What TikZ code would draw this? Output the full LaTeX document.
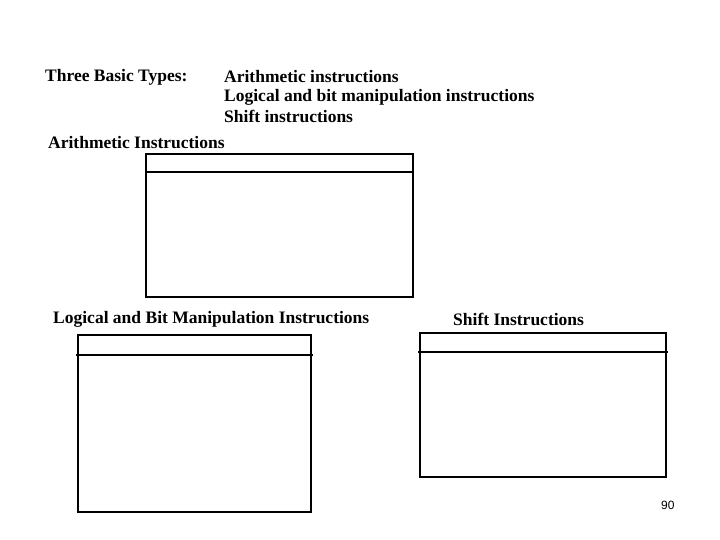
\documentclass[tikz,border=0pt]{standalone}
\usepackage{fontspec}
\setmainfont{Liberation Serif}
\newfontfamily\sansf{Liberation Sans}
\begin{document}
\begin{tikzpicture}[x=1pt,y=-1pt,
  lbl/.style={anchor=west,inner sep=0pt,font=\bfseries\fontsize{17.5}{20}\selectfont},
  tbl/.style={draw,line width=1.6pt}]
\useasboundingbox (0,0) rectangle (720,540);
\node[lbl] (t) at (45,77) {Three Basic Types:};
\node[lbl] (a1) at (224,77) {Arithmetic instructions};
\node[lbl] (a2) at (224,97) {Logical and bit manipulation instructions};
\node[lbl] (a3) at (224,116) {Shift instructions};
\node[lbl] (h1) at (48,143) {Arithmetic Instructions};
\draw[tbl] (146,154) rectangle (413,297);
\draw[tbl] (146,172) -- (413,172);
\node[lbl] (h2) at (53,319) {Logical and Bit Manipulation Instructions};
\draw[tbl] (78,335) rectangle (311,512);
\draw[tbl] (76,355) -- (313,355);
\node[lbl] (h3) at (453,319) {Shift Instructions};
\draw[tbl] (420,333) rectangle (666,477);
\draw[tbl] (418,352) -- (668,352);
\node[anchor=west,inner sep=0pt,font=\sansf\fontsize{12}{14}\selectfont] (n) at (661,505) {90};
\end{tikzpicture}
\end{document}
